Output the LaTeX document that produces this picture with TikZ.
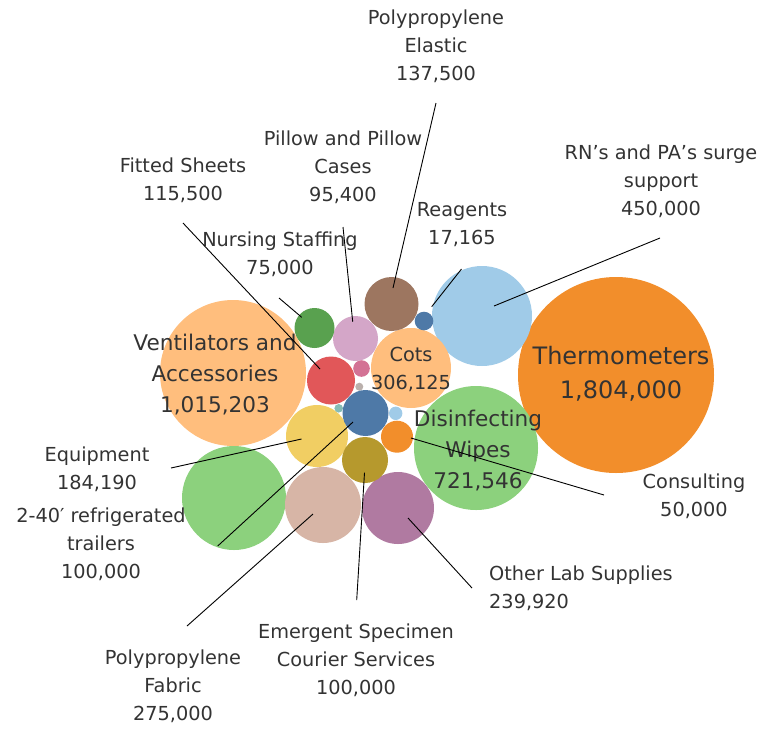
\documentclass[tikz,border=0pt]{standalone}
\usepackage{fontspec}
\setmainfont{DejaVu Sans}
\definecolor{txt}{HTML}{333333}
\definecolor{cOrange}{HTML}{F28E2B}
\definecolor{cLOrange}{HTML}{FFBE7D}
\definecolor{cLGreen}{HTML}{8CD17D}
\definecolor{cLBlue}{HTML}{A0CBE8}
\definecolor{cTan}{HTML}{D7B5A6}
\definecolor{cPurple}{HTML}{B07AA1}
\definecolor{cYellow}{HTML}{F1CE63}
\definecolor{cBrown}{HTML}{9D7660}
\definecolor{cPink}{HTML}{D4A6C8}
\definecolor{cGreen}{HTML}{59A14F}
\definecolor{cRed}{HTML}{E15759}
\definecolor{cMagenta}{HTML}{D37295}
\definecolor{cGray}{HTML}{BAB0AC}
\definecolor{cTeal}{HTML}{86BCB6}
\definecolor{cBlue}{HTML}{4E79A7}
\definecolor{cOlive}{HTML}{B6992D}
\tikzset{
  bub/.style 2 args={circle,inner sep=0pt,outer sep=0pt,minimum size=2*#1 pt,fill=#2},
  lab/.style={text=txt,align=center,inner sep=0pt,font=\fontsize{19.3}{28}\selectfont},
  biglab/.style={text=txt,align=center,inner sep=0pt,font=\fontsize{21.6}{31}\selectfont},
  hugelab/.style={text=txt,align=center,inner sep=0pt,font=\fontsize{24}{34}\selectfont},
  lead/.style={draw=black,line width=0.9pt}}
\begin{document}
\begin{tikzpicture}[x=1pt,y=-1pt]
\useasboundingbox (0,0) rectangle (770,729);
% bubbles
\node[bub={98}{cOrange}] (thermo) at (616,375) {};
\node[bub={73}{cLOrange}] (vent) at (233,373) {};
\node[bub={62}{cLGreen}] (wipes) at (476,448) {};
\node[bub={50}{cLBlue}] (rn) at (482,316) {};
\node[bub={52}{cLGreen}] (bigg) at (234,498) {};
\node[bub={40}{cLOrange}] (cots) at (411,368) {};
\node[bub={38}{cTan}] (fabric) at (323,505) {};
\node[bub={36}{cPurple}] (otherlab) at (398,508) {};
\node[bub={31}{cYellow}] (equip) at (317,436) {};
\node[bub={27}{cBrown}] (elastic) at (391.5,304) {};
\node[bub={22.5}{cPink}] (pillow) at (355.5,338.5) {};
\node[bub={20}{cGreen}] (nursing) at (314.5,328) {};
\node[bub={24}{cRed}] (fitted) at (331,380.5) {};
\node[bub={8.3}{cMagenta}] (smpink) at (361.5,368.5) {};
\node[bub={4}{cGray}] (smgray) at (359.3,386.7) {};
\node[bub={4.3}{cTeal}] (smteal) at (338.7,408.3) {};
\node[bub={23}{cBlue}] (trailers) at (365.5,413) {};
\node[bub={23}{cOlive}] (courier) at (365,460) {};
\node[bub={6.7}{cLBlue}] (smblue) at (395.7,413.3) {};
\node[bub={16}{cOrange}] (consult) at (397,436.7) {};
\node[bub={9.3}{cBlue}] (reagents) at (424,321) {};
% labels
\node[lab] (lElastic) at (436,46) {Polypropylene\\Elastic\\137,500};
\node[lab] (lPillow) at (343,167) {Pillow and Pillow\\Cases\\95,400};
\node[lab] (lFitted) at (183,180) {Fitted Sheets\\115,500};
\node[lab] (lRN) at (661,181) {RN’s and PA’s surge\\support\\450,000};
\node[lab] (lReagents) at (462,225) {Reagents\\17,165};
\node[lab] (lNursing) at (280,254) {Nursing Staffing\\75,000};
\node[biglab] (lVent) at (215,375) {Ventilators and\\Accessories\\1,015,203};
\node[lab] (lCots) at (411,369) {Cots\\306,125};
\node[hugelab] (lThermo) at (621,374) {Thermometers\\1,804,000};
\node[biglab] (lWipes) at (478,451) {Disinfecting\\Wipes\\721,546};
\node[lab] (lEquip) at (97,469) {Equipment\\184,190};
\node[lab] (lTrailers) at (101,544) {2-40′ refrigerated\\trailers\\100,000};
\node[lab] (lConsult) at (694,496) {Consulting\\50,000};
\node[lab,align=left,anchor=west] (lOther) at (489,588) {Other Lab Supplies\\239,920};
\node[lab] (lCourier) at (356,660) {Emergent Specimen\\Courier Services\\100,000};
\node[lab] (lFabric) at (173,686) {Polypropylene\\Fabric\\275,000};
% leader line ends
\coordinate (eElastic) at (436,103);
\coordinate (pElastic) at (393,288);
\coordinate (ePillow) at (343,227);
\coordinate (pPillow) at (352.7,321.7);
\coordinate (eFitted) at (183,223);
\coordinate (pFitted) at (320,369);
\coordinate (eNursing) at (279,298);
\coordinate (pNursing) at (301.7,317.3);
\coordinate (eReagents) at (461.5,269);
\coordinate (pReagents) at (431.7,306.7);
\coordinate (eRN) at (660,238);
\coordinate (pRN) at (494,306);
\coordinate (eEquip) at (171,468);
\coordinate (pEquip) at (301.5,439);
\coordinate (eTrailers) at (217.7,546);
\coordinate (pTrailers) at (353,422);
\coordinate (eFabric) at (187,626);
\coordinate (pFabric) at (313,514);
\coordinate (eCourier) at (356.7,600);
\coordinate (pCourier) at (364.5,472.7);
\coordinate (eOther) at (472,588);
\coordinate (pOther) at (408,518);
\coordinate (eConsult) at (604,495);
\coordinate (pConsult) at (411,438);
% leader lines
\draw[lead] (eElastic) -- (pElastic);
\draw[lead] (ePillow) -- (pPillow);
\draw[lead] (eFitted) -- (pFitted);
\draw[lead] (eNursing) -- (pNursing);
\draw[lead] (eReagents) -- (pReagents);
\draw[lead] (eRN) -- (pRN);
\draw[lead] (eEquip) -- (pEquip);
\draw[lead] (eTrailers) -- (pTrailers);
\draw[lead] (eFabric) -- (pFabric);
\draw[lead] (eCourier) -- (pCourier);
\draw[lead] (eOther) -- (pOther);
\draw[lead] (eConsult) -- (pConsult);
\end{tikzpicture}
\end{document}
